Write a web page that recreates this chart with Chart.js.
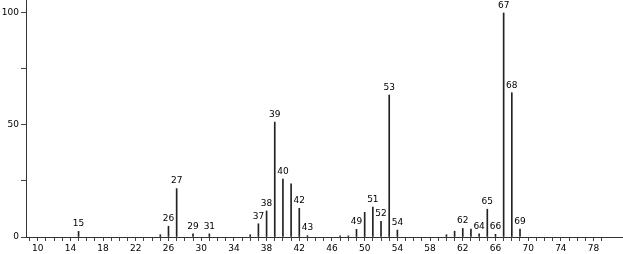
<!DOCTYPE html>
<html><head><meta charset="utf-8">
<script src="https://cdn.jsdelivr.net/npm/chart.js@4.4.0/dist/chart.umd.min.js"></script>
<style>html,body{margin:0;padding:0;background:#fff}#wrap{width:623px;height:254px;position:relative}</style>
</head><body><div id="wrap"><canvas id="c"></canvas></div>
<script>
const masses      = [15, 25, 26, 27, 29, 31, 36, 37, 38, 39, 40, 41, 42, 43, 47, 48, 49, 50, 51, 52, 53, 54, 60, 61, 62, 63, 64, 65, 66, 67, 68, 69];
const intensities = [2.5, 1.0, 4.8, 21.6, 1.4, 1.4, 1.0, 5.9, 11.6, 51.3, 25.9, 23.7, 12.8, 0.6, 0.5, 0.5, 3.4, 11.0, 13.4, 7.0, 63.4, 3.1, 1.0, 2.6, 3.8, 3.5, 1.4, 12.4, 1.2, 100, 64.4, 3.5];
const labeledMasses = [15, 26, 27, 29, 31, 37, 38, 39, 40, 42, 43, 49, 51, 52, 53, 54, 62, 64, 65, 66, 67, 68, 69];
const xTickLabels = [10, 14, 18, 22, 26, 30, 34, 38, 42, 46, 50, 54, 58, 62, 66, 70, 74, 78];
const yTickValues = [0, 25, 50, 75, 100];
const yTickLabels = [0, 50, 100];

const FONT = 'DejaVu Sans';

const peakLabels = {
  id: 'peakLabels',
  afterDatasetsDraw(chart) {
    const {ctx, scales: {x, y}} = chart;
    ctx.save();
    ctx.font = '9px "' + FONT + '"';
    ctx.fillStyle = '#000';
    ctx.textAlign = 'center';
    ctx.textBaseline = 'bottom';
    labeledMasses.forEach(m => {
      const i = masses.indexOf(m);
      if (i < 0) return;
      const px = x.getPixelForValue(m);
      const py = y.getPixelForValue(intensities[i]);
      ctx.fillText(String(m), px, py - 3);
    });
    ctx.restore();
  }
};

new Chart(document.getElementById('c'), {
  type: 'bar',
  data: {
    datasets: [{
      data: masses.map((m, i) => ({x: m, y: intensities[i]})),
      backgroundColor: '#222',
      barThickness: 1,
      borderWidth: 0
    }]
  },
  options: {
    responsive: true,
    maintainAspectRatio: false,
    animation: false,
    layout: {padding: 0},
    plugins: {legend: {display: false}, tooltip: {enabled: false}},
    scales: {
      x: {
        type: 'linear',
        offset: false,
        min: 8.57,
        max: 81.6,
        afterBuildTicks: s => {
          const t = [];
          for (let v = 9; v <= 79; v++) t.push({value: v});
          s.ticks = t;
        },
        afterFit: s => { s.height = 17; s.paddingLeft = 0; s.paddingRight = 0; },
        ticks: {
          autoSkip: false, maxRotation: 0, minRotation: 0, padding: 2,
          color: '#000', font: {family: FONT, size: 9},
          callback: v => xTickLabels.includes(v) ? String(v) : ''
        },
        grid: {offset: false, drawOnChartArea: false, drawTicks: true, tickLength: 4, color: '#444'},
        border: {color: '#333', width: 1}
      },
      y: {
        min: 0,
        max: 105.8,
        afterBuildTicks: s => { s.ticks = yTickValues.map(v => ({value: v})); },
        afterFit: s => { s.width = 26; s.paddingTop = 0; s.paddingBottom = 0; },
        ticks: {
          padding: 2, color: '#000', font: {family: FONT, size: 9},
          callback: v => yTickLabels.includes(v) ? String(v) : ''
        },
        grid: {drawOnChartArea: false, drawTicks: true, tickLength: 5, color: '#444'},
        border: {color: '#333', width: 1}
      }
    }
  },
  plugins: [peakLabels]
});
</script>
</body></html>
